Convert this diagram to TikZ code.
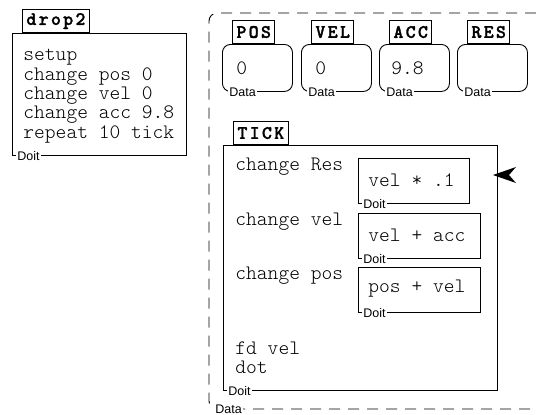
\documentclass[tikz,border=0pt]{standalone}
\usepackage{fontspec}
\setmainfont{Liberation Sans}
\newfontfamily\codefont{lmmonolt10-regular}[Extension=.otf]
\newfontfamily\headfont{lmmonolt10-bold}[Extension=.otf, LetterSpace=12, FakeBold=1.5]
\begin{document}
\begin{tikzpicture}
[x=1pt, y=-1pt, line width=.9pt,
 frame/.style={draw, anchor=north west, inner sep=0pt},
 databox/.style={frame, rounded corners=8pt, minimum width=70pt, minimum height=47pt},
 tab/.style={draw, fill=white, anchor=south west, inner xsep=4pt, inner ysep=0pt,
   minimum height=23pt, font=\headfont\fontsize{19}{19}\selectfont},
 code/.style={anchor=west, inner sep=0pt, font=\codefont\fontsize{20.5}{20.5}\selectfont},
 tag/.style={anchor=west, fill=white, inner xsep=1pt, inner ysep=1pt, font=\fontsize{12.5}{12.5}\selectfont},
 outline/.style={dash pattern=on 11pt off 8pt, rounded corners=8pt}]
\useasboundingbox (0,0) rectangle (536,415);

% procedure drop2
\node[frame, minimum width=174pt, minimum height=122pt] (drop2) at (12,33) {};
\node[tab] (drop2tab) at (22,33) {drop2};
\node[code] (setup) at (23,57) {setup};
\node[code] (setpos) at (23,77) {change pos 0};
\node[code] (setvel) at (23,96) {change vel 0};
\node[code] (setacc) at (23,115) {change acc 9.8};
\node[code] (rep) at (23,134) {repeat 10 tick};
\node[tag] at ([xshift=4pt]drop2.south west) {Doit};

% the dashed data region
\draw[outline] (536,13) -- (209,13) -- (209,409) -- (536,409);
\node[tag] (region) at (214,409) {Data};

% variables
\node[databox] (pos) at (222,44) {};
\node[tab] (postab) at (232,44) {POS};
\node[code] (posval) at (236,68) {0};
\node[tag] at ([xshift=6pt]pos.south west) {Data};

\node[databox] (vel) at (301,44) {};
\node[tab] (veltab) at (311,44) {VEL};
\node[code] (velval) at (315,68) {0};
\node[tag] at ([xshift=6pt]vel.south west) {Data};

\node[databox] (acc) at (379,44) {};
\node[tab] (acctab) at (389,44) {ACC};
\node[code] (accval) at (391,68) {9.8};
\node[tag] at ([xshift=6pt]acc.south west) {Data};

\node[databox] (res) at (457,44) {};
\node[tab] (restab) at (467,44) {RES};
\node[tag] at ([xshift=6pt]res.south west) {Data};

% procedure tick
\node[frame, minimum width=274pt, minimum height=245pt] (tick) at (223,145) {};
\node[tab] (ticktab) at (233,145) {TICK};
\node[tag] at ([xshift=4pt]tick.south west) {Doit};

\node[code] (chres) at (235,167) {change Res};
\node[frame, minimum width=111pt, minimum height=45pt] (resexp) at (358,158) {};
\node[code] at (368,180) {vel * .1};
\node[tag] at ([xshift=4pt]resexp.south west) {Doit};

\node[code] (chvel) at (235,222) {change vel};
\node[frame, minimum width=122pt, minimum height=45pt] (velexp) at (358,213) {};
\node[code] at (368,235) {vel + acc};
\node[tag] at ([xshift=4pt]velexp.south west) {Doit};

\node[code] (chpos) at (235,276) {change pos};
\node[frame, minimum width=122pt, minimum height=45pt] (posexp) at (358,267) {};
\node[code] at (368,289) {pos + vel};
\node[tag] at ([xshift=4pt]posexp.south west) {Doit};

\node[code] (fd) at (235,348) {fd vel};
\node[code] (dot) at (235,367) {dot};

% pointer
\fill (493,175) -- (516,167) -- (509,175) -- (516,183) -- cycle;
\end{tikzpicture}
\end{document}
